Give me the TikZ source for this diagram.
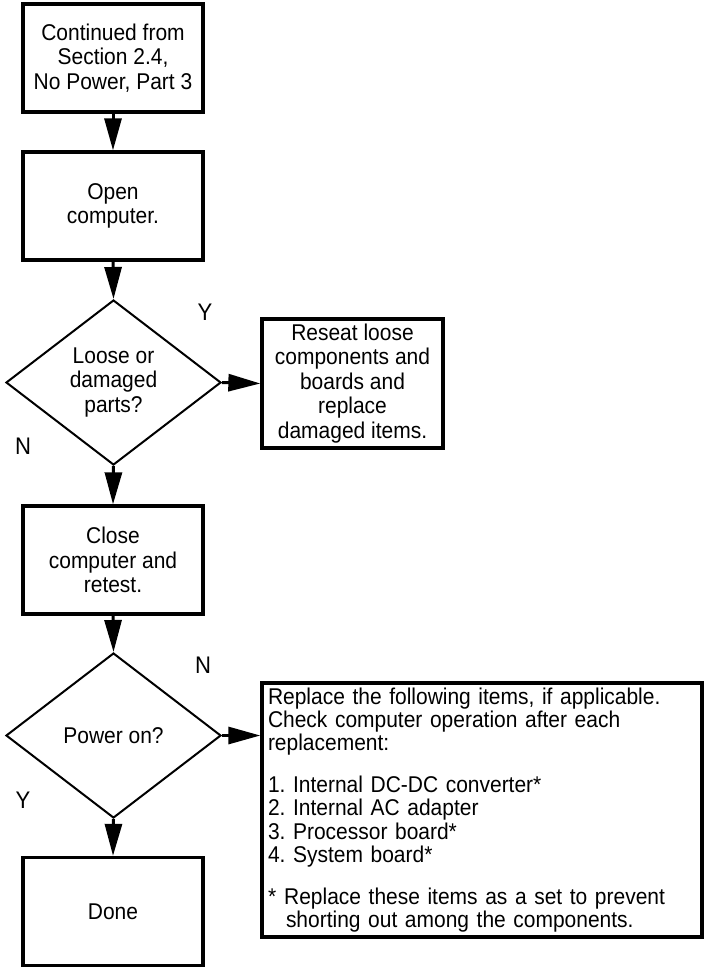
\documentclass[tikz,border=0pt]{standalone}
\usepackage{fontspec}
\setmainfont{Liberation Sans}[FakeStretch=0.92]
\usetikzlibrary{shapes.geometric,arrows.meta}
\frenchspacing
\tikzset{
  stepbox/.style={draw, line width=3.3pt, minimum width=180pt, minimum height=108pt, inner sep=0pt, align=center,
    font=\fontsize{22.8pt}{24.5pt}\selectfont},
  decision/.style={draw, diamond, line width=2pt, minimum width=215pt, minimum height=165pt, inner sep=0pt, align=center,
    font=\fontsize{22.8pt}{24.5pt}\selectfont},
  lbl/.style={font=\fontsize{24pt}{25pt}\selectfont, inner sep=0pt},
  arr/.style={line width=3pt, -{Triangle[length=32pt,width=17pt]}}
}
\begin{document}
\begin{tikzpicture}[x=1pt,y=-1pt]
\useasboundingbox (0,0) rectangle (704,967);
\node[stepbox] (start) at (113,58) {Continued from\\Section 2.4,\\No Power, Part 3};
\node[stepbox] (open) at (113,206) {Open\\computer.};
\node[decision] (loose) at (113.5,382.5) {Loose or\\damaged\\parts?};
\node[stepbox, minimum width=181pt, minimum height=129pt] (reseat) at (352.5,383.5) {Reseat loose\\components and\\boards and\\replace\\damaged items.};
\node[stepbox] (close) at (113,560) {Close\\computer and\\retest.};
\node[decision] (power) at (113.5,735.5) {Power on?};
\node[stepbox] (done) at (113,911.5) {Done};
\node[draw, line width=3.3pt, minimum width=440pt, minimum height=254pt, inner xsep=6pt, inner ysep=0pt,
  text width=428pt, align=left, font=\fontsize{22.8pt}{23.3pt}\selectfont] (replace) at (482,810)
  {Replace the following items, if applicable.\\
   Check computer operation after each\\
   replacement:\\[18.7pt]
   1. Internal DC-DC converter*\\
   2. Internal AC adapter\\
   3. Processor board*\\
   4. System board*\\[18.7pt]
   *\hspace*{8pt}Replace these items as a set to prevent\\
   \hspace*{18pt}shorting out among the components.};
\draw[arr] (start.south) -- (open.north);
\draw[arr] (open.south) -- (loose.north);
\draw[arr] (loose.east) -- (reseat.west);
\draw[arr] (loose.south) -- (close.north);
\draw[arr] (close.south) -- (power.north);
\draw[arr] (power.east) -- (power.east -| replace.west);
\draw[arr] (power.south) -- (done.north);
\node[lbl] (y1) at (205,312) {Y};
\node[lbl] (n1) at (23,446) {N};
\node[lbl] (n2) at (203,665) {N};
\node[lbl] (y2) at (23,800) {Y};
\end{tikzpicture}
\end{document}
